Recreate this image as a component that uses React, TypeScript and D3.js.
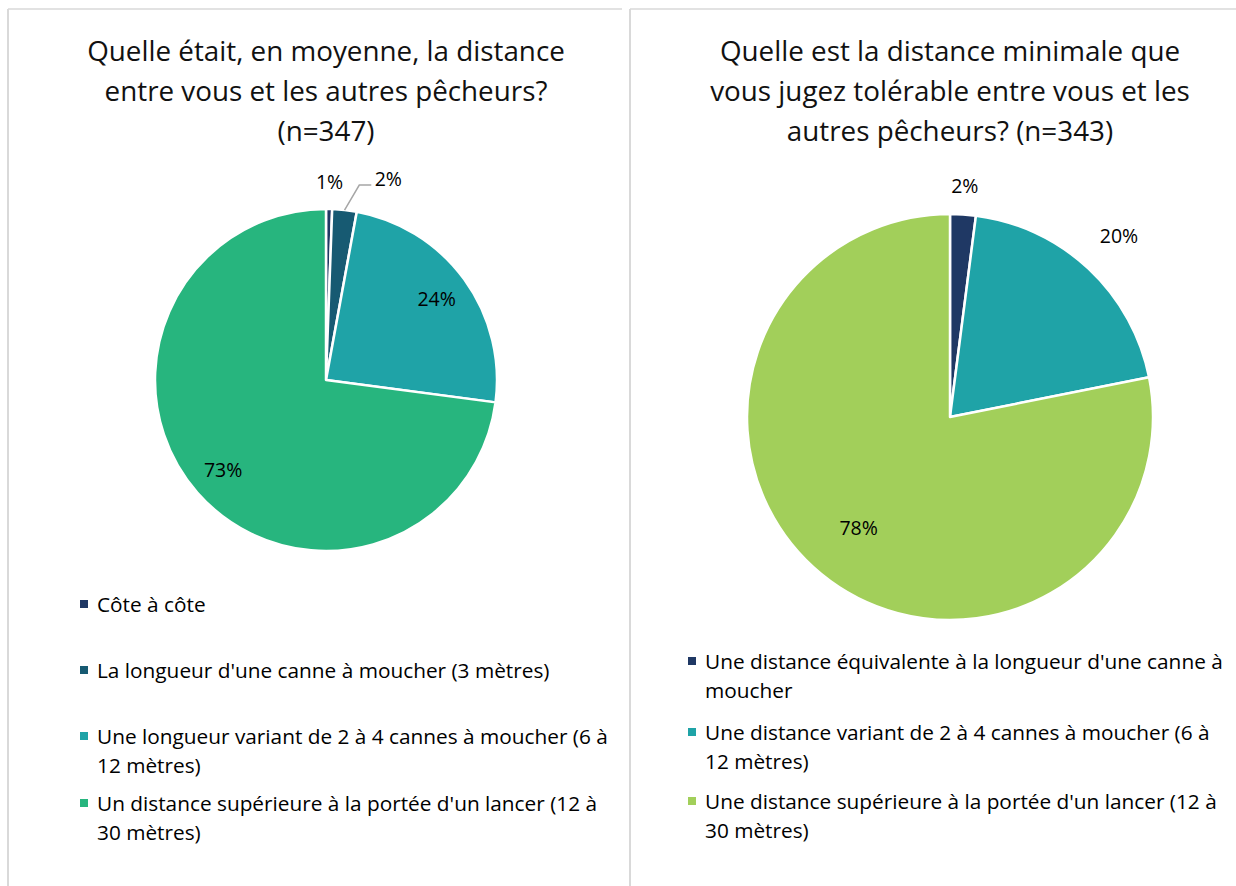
import * as React from 'react';
import * as d3 from 'd3';

// Left chart: average distance between anglers (n=347)
const LEFT_TITLE = ['Quelle était, en moyenne, la distance', 'entre vous et les autres pêcheurs?', '(n=347)'];
const LEFT_CATEGORIES = [
  'Côte à côte',
  "La longueur d'une canne à moucher (3 mètres)",
  'Une longueur variant de 2 à 4 cannes à moucher (6 à\n12 mètres)',
  "Un distance supérieure à la portée d'un lancer (12 à\n30 mètres)",
];
const LEFT_COUNTS = [2, 8, 84, 253];

// Right chart: minimal tolerable distance (n=343)
const RIGHT_TITLE = ['Quelle est la distance minimale que', 'vous jugez tolérable entre vous et les', 'autres pêcheurs? (n=343)'];
const RIGHT_CATEGORIES = [
  "Une distance équivalente à la longueur d'une canne à\nmoucher",
  'Une distance variant de 2 à 4 cannes à moucher (6 à\n12 mètres)',
  "Une distance supérieure à la portée d'un lancer (12 à\n30 mètres)",
];
const RIGHT_COUNTS = [7, 68, 268];

const LEFT_COLORS = ['#1f3864', '#175a72', '#1fa3a7', '#27b57e'];
const RIGHT_COLORS = ['#1f3864', '#1fa3a7', '#a2cf5a'];

// label placement: distance from center (fraction of radius), extra angle (degrees)
const LEFT_LABEL_R = [1.16, 1.23, 0.8, 0.8];
const LEFT_LABEL_SHIFT = [0, 11, 0, 0];
const RIGHT_LABEL_R = [1.14, 1.22, 0.71];
const RIGHT_LABEL_SHIFT = [0, 0, 0];

const FONT = '"Open Sans", "Noto Sans", sans-serif';

interface PanelProps {
  title: string[];
  categories: string[];
  counts: number[];
  colors: string[];
  labelR: number[];
  labelShift: number[];
  cx: number;
  cy: number;
  radius: number;
  legendX: number;
  legendY: number[];
  leader?: number; // index of slice whose label uses a leader line
}

function PiePanel({ title, categories, counts, colors, labelR, labelShift, cx, cy, radius, legendX, legendY, leader }: PanelProps) {
  const total = d3.sum(counts);
  const pie = d3.pie<number>().value((d) => d).sort(null);
  const arcs = pie(counts);
  const arc = d3.arc<d3.PieArcDatum<number>>().innerRadius(0).outerRadius(radius);
  const fmt = (v: number) => `${Math.round((v / total) * 100)}%`;

  return (
    <g>
      {title.map((t, i) => (
        <text key={i} x={cx} y={61 + i * 40} textAnchor="middle" fontSize={27.8} fill="#111" fontFamily={FONT}>
          {t}
        </text>
      ))}
      <g transform={`translate(${cx},${cy})`}>
        {arcs.map((a, i) => (
          <path key={i} d={arc(a) || ''} fill={colors[i]} stroke="#fff" strokeWidth={2.5} strokeLinejoin="round" />
        ))}
        {arcs.map((a, i) => {
          const mid = (a.startAngle + a.endAngle) / 2;
          const ang = mid + (labelShift[i] * Math.PI) / 180;
          const r = radius * labelR[i];
          const x = Math.sin(ang) * r;
          const y = -Math.cos(ang) * r;
          const label = (
            <text x={x} y={y} dy="0.35em" textAnchor="middle" fontSize={19.5} fill="#000" fontFamily={FONT}>
              {fmt(a.data)}
            </text>
          );
          if (i === leader) {
            const ex = Math.sin(mid) * radius;
            const ey = -Math.cos(mid) * radius;
            const ly = y + 6;
            return (
              <g key={i}>
                <polyline
                  points={`${ex},${ey} ${x - 29},${ly} ${x - 17},${ly}`}
                  fill="none"
                  stroke="#a6a6a6"
                  strokeWidth={1.5}
                />
                {label}
              </g>
            );
          }
          return <g key={i}>{label}</g>;
        })}
      </g>
      {categories.map((c, i) => (
        <g key={i}>
          <rect x={legendX} y={legendY[i] - 12} width={8} height={8} fill={colors[i]} />
          {c.split('\n').map((line, j) => (
            <text key={j} x={legendX + 17} y={legendY[i] + j * 29} fontSize={20.8} fill="#000" fontFamily={FONT}>
              {line}
            </text>
          ))}
        </g>
      ))}
    </g>
  );
}

export default function App() {
  const border = '#d9d9d9';
  return (
    <svg width={1236} height={886} style={{ position: 'absolute', left: 0, top: 0, background: '#fff' }}>
      {/* panel frames */}
      <line x1={8} y1={9} x2={622} y2={9} stroke={border} strokeWidth={1.5} />
      <line x1={8} y1={9} x2={8} y2={886} stroke={border} strokeWidth={2} />
      <line x1={630} y1={9} x2={1236} y2={9} stroke={border} strokeWidth={1.5} />
      <line x1={630} y1={9} x2={630} y2={886} stroke={border} strokeWidth={2} />
      <PiePanel
        title={LEFT_TITLE}
        categories={LEFT_CATEGORIES}
        counts={LEFT_COUNTS}
        colors={LEFT_COLORS}
        labelR={LEFT_LABEL_R}
        labelShift={LEFT_LABEL_SHIFT}
        cx={326}
        cy={380}
        radius={171}
        legendX={80}
        legendY={[612, 678, 744, 811]}
        leader={1}
      />
      <PiePanel
        title={RIGHT_TITLE}
        categories={RIGHT_CATEGORIES}
        counts={RIGHT_COUNTS}
        colors={RIGHT_COLORS}
        labelR={RIGHT_LABEL_R}
        labelShift={RIGHT_LABEL_SHIFT}
        cx={950}
        cy={417}
        radius={203}
        legendX={688}
        legendY={[669, 740, 809]}
      />
    </svg>
  );
}
